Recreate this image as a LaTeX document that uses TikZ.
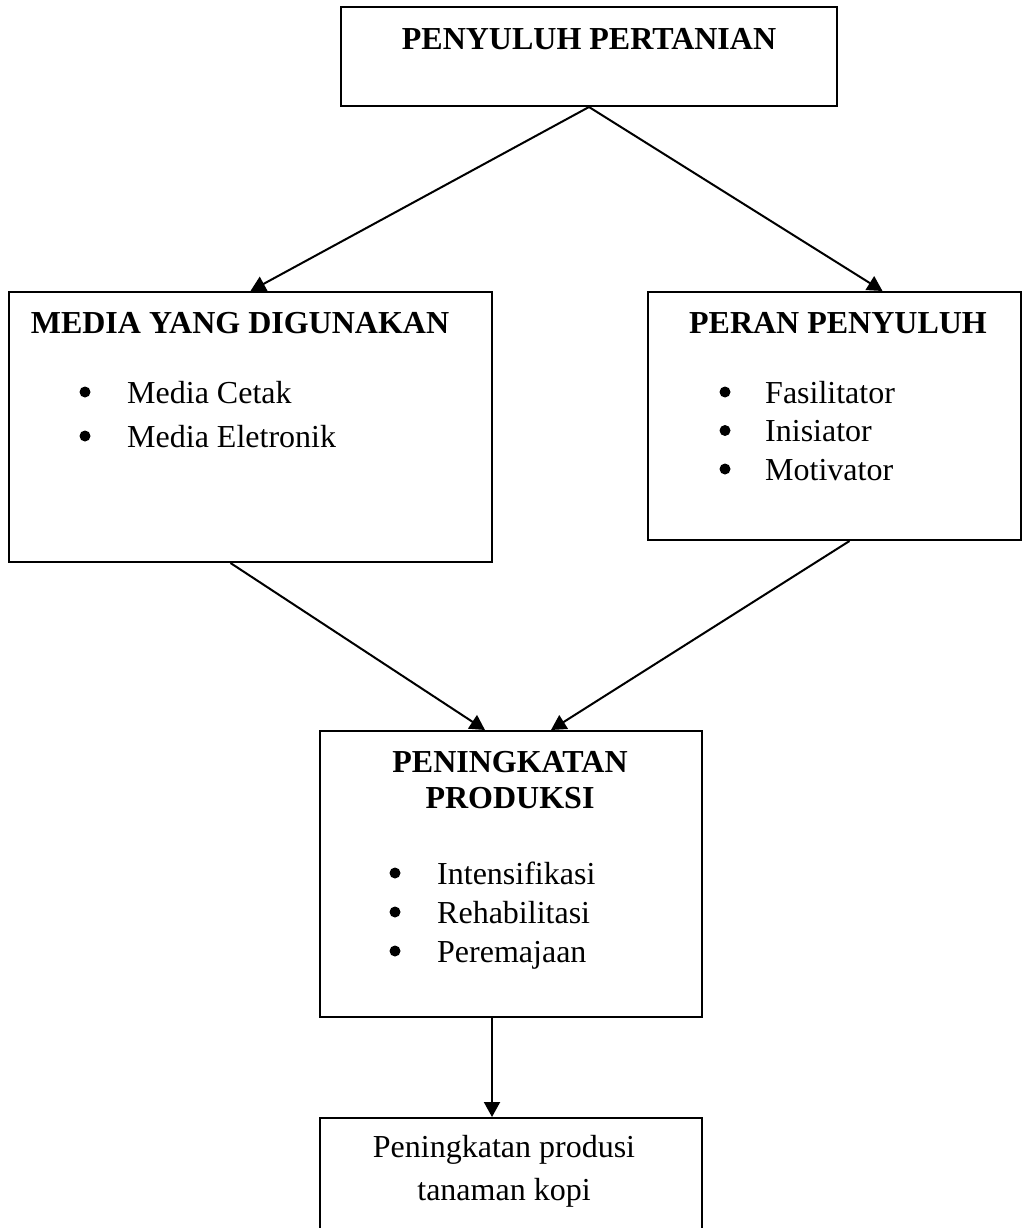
\documentclass[tikz,border=0pt]{standalone}
\usepackage{fontspec}
\setmainfont{Liberation Serif}
\usetikzlibrary{positioning,arrows.meta}

\tikzset{
  box/.style={draw, line width=2pt, inner sep=0pt},
  hdr/.style={font=\fontsize{32}{38}\selectfont\bfseries, inner sep=0pt, anchor=base},
  txt/.style={font=\fontsize{32}{38}\selectfont, inner sep=0pt, anchor=base},
  itm/.style={font=\fontsize{32}{38}\selectfont, inner sep=0pt, anchor=base west},
  bul/.style={circle, fill, inner sep=0pt, minimum size=11pt},
  arr/.style={line width=2pt, -{Triangle[width=16pt,length=15pt]}}
}

\begin{document}
\begin{tikzpicture}[x=1pt,y=-1pt]
  \useasboundingbox (0,0) rectangle (1023,1228);

  % boxes
  \node[box, minimum width=496pt, minimum height=99pt]  (top)   at (589,56.5) {};
  \node[box, minimum width=483pt, minimum height=270pt] (media) at (250.5,427) {};
  \node[box, minimum width=373pt, minimum height=248pt] (peran) at (834.5,416) {};
  \node[box, minimum width=382pt, minimum height=286pt] (prod)  at (511,874) {};
  \node[box, minimum width=382pt, minimum height=130pt] (kopi)  at (511,1183) {};

  % headings
  \node[hdr] (toptxt)   at (589,50)  {PENYULUH PERTANIAN};
  \node[hdr] (mediatxt) at (240,333) {MEDIA YANG DIGUNAKAN};
  \node[hdr] (perantxt) at (838,333) {PERAN PENYULUH};
  \node[hdr] (prodtxt1) at (510,772) {PENINGKATAN};
  \node[hdr] (prodtxt2) at (510,808) {PRODUKSI};
  \node[txt] (kopitxt1) at (504,1157) {Peningkatan produsi};
  \node[txt] (kopitxt2) at (504,1200) {tanaman kopi};

  % bullet lists
  \foreach \t [count=\i] in {Media Cetak, Media Eletronik}
  {
  \node[bul] (mb\i) at (85,{392+44*(\i-1)}) {};
  \node[itm] (mi\i) at (127,{403+44*(\i-1)}) {\t};
  }
  \foreach \t [count=\i] in {Fasilitator, Inisiator, Motivator}
  {
  \node[bul] (pb\i) at (725,{392+38.5*(\i-1)}) {};
  \node[itm] (pi\i) at (765,{403+38.5*(\i-1)}) {\t};
  }
  \foreach \t [count=\i] in {Intensifikasi, Rehabilitasi, Peremajaan}
  {
  \node[bul] (rb\i) at (395,{873+39*(\i-1)}) {};
  \node[itm] (ri\i) at (437,{884+39*(\i-1)}) {\t};
  }

  % arrows
  \draw[arr] (top.south) -- (media.north);
  \draw[arr] (top.south) -- ([xshift=48pt]peran.north);
  \draw[arr] ([xshift=-20pt]media.south) -- ([xshift=-26pt]prod.north);
  \draw[arr] ([xshift=15pt]peran.south) -- ([xshift=40pt]prod.north);
  \draw[arr] ([xshift=-19pt]prod.south) -- ([xshift=-19pt]kopi.north);

\end{tikzpicture}
\end{document}
